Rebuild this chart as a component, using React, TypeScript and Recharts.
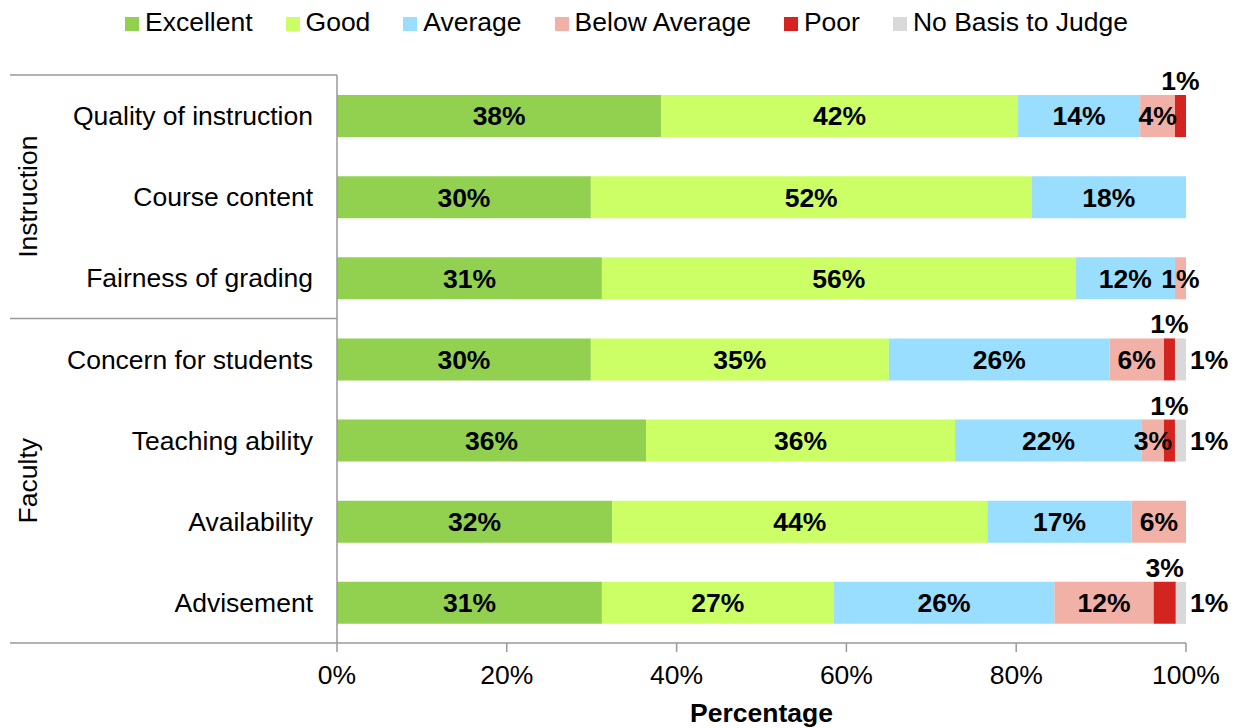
import React from 'react';
import { BarChart, Bar, XAxis, YAxis, LabelList, Label } from 'recharts';

const CATEGORIES = [
  'Quality of instruction',
  'Course content',
  'Fairness of grading',
  'Concern for students',
  'Teaching ability',
  'Availability',
  'Advisement',
];

const EXCELLENT = [38.2, 29.9, 31.2, 29.9, 36.4, 32.4, 31.2];
const GOOD = [42.0, 51.9, 55.8, 35.1, 36.4, 44.2, 27.3];
const AVERAGE = [14.4, 18.2, 11.7, 26.0, 22.0, 17.0, 26.0];
const BELOW_AVERAGE = [4.1, 0, 1.3, 6.4, 2.6, 6.4, 11.7];
const POOR = [1.3, 0, 0, 1.3, 1.3, 0, 2.6];
const NO_BASIS = [0, 0, 0, 1.3, 1.3, 0, 1.2];

const X_TICKS = [0, 20, 40, 60, 80, 100];

const GROUPS = [
  { name: 'Instruction', start: 0, end: 2 },
  { name: 'Faculty', start: 3, end: 6 },
];

const SERIES = [
  { key: 'excellent', name: 'Excellent', color: '#92D050', values: EXCELLENT, pos: 'center' },
  { key: 'good', name: 'Good', color: '#CCFF66', values: GOOD, pos: 'center' },
  { key: 'average', name: 'Average', color: '#99DDFF', values: AVERAGE, pos: 'center' },
  { key: 'below', name: 'Below Average', color: '#F2B1A7', values: BELOW_AVERAGE, pos: 'center' },
  { key: 'poor', name: 'Poor', color: '#D32420', values: POOR, pos: 'top' },
  { key: 'nobasis', name: 'No Basis to Judge', color: '#D9D9D9', values: NO_BASIS, pos: 'right' },
];

const data = CATEGORIES.map((category, i) => {
  const row: Record<string, string | number> = { category };
  SERIES.forEach(s => {
    row[s.key] = s.values[i];
  });
  return row;
});

// layout
const WIDTH = 1236;
const HEIGHT = 728;
const TOP = 75;
const X_AXIS_H = 85;
const Y_AXIS_W = 337;
const PLOT_H = HEIGHT - TOP - X_AXIS_H;
const FRAME_LEFT = 10;
const FONT = '"Liberation Sans", Arial, sans-serif';
const FONT_SIZE = 26.5;
const AXIS_COLOR = '#999999';

const pct = (v: any) => (Number(v) > 0 ? `${Math.round(Number(v))}%` : '');

const CategoryTick = (props: any) => {
  const { y, payload, index } = props;
  const step = PLOT_H / CATEGORIES.length;
  const parts: React.ReactNode[] = [];
  GROUPS.forEach(g => {
    if (index === g.start) {
      const ly = y - step / 2;
      parts.push(
        <line key="top" x1={FRAME_LEFT} x2={Y_AXIS_W} y1={ly} y2={ly} stroke={AXIS_COLOR} strokeWidth={1.5} />
      );
      const cy = y + ((g.end - g.start) * step) / 2;
      parts.push(
        <text
          key="grp"
          x={27}
          y={cy}
          dy="0.36em"
          textAnchor="middle"
          transform={`rotate(-90, 27, ${cy})`}
          fontFamily={FONT}
          fontSize={FONT_SIZE}
          fill="#000"
        >
          {g.name}
        </text>
      );
    }
  });
  if (index === CATEGORIES.length - 1) {
    const ly = y + step / 2;
    parts.push(
      <line key="bottom" x1={FRAME_LEFT} x2={Y_AXIS_W} y1={ly} y2={ly} stroke={AXIS_COLOR} strokeWidth={1.5} />
    );
  }
  return (
    <g>
      {parts}
      <text
        x={Y_AXIS_W - 24}
        y={y}
        dy="0.36em"
        textAnchor="end"
        fontFamily={FONT}
        fontSize={FONT_SIZE}
        fill="#000"
      >
        {payload.value}
      </text>
    </g>
  );
};

const ChartLegend = () => (
  <div
    style={{
      position: 'absolute',
      top: 7,
      left: 125,
      display: 'flex',
      fontFamily: FONT,
      fontSize: FONT_SIZE,
      lineHeight: '30px',
      color: '#000',
      whiteSpace: 'nowrap',
    }}
  >
    {SERIES.map((s, i) => (
      <span key={s.key} style={{ marginRight: i < SERIES.length - 1 ? 33 : 0 }}>
        <span
          style={{
            display: 'inline-block',
            width: 14,
            height: 14,
            background: s.color,
            marginRight: 6,
            verticalAlign: 'baseline',
          }}
        />
        {s.name}
      </span>
    ))}
  </div>
);

export default function App() {
  return (
    <div style={{ position: 'absolute', left: 0, top: 0, width: WIDTH, height: HEIGHT, background: '#fff' }}>
      <ChartLegend />
      <BarChart
        width={WIDTH}
        height={HEIGHT}
        data={data}
        layout="vertical"
        margin={{ top: TOP, right: 50, bottom: 0, left: 0 }}
        style={{ fontFamily: FONT }}
      >
        <XAxis
          type="number"
          domain={[0, 100]}
          ticks={X_TICKS}
          tickFormatter={v => `${v}%`}
          height={X_AXIS_H}
          stroke={AXIS_COLOR}
          axisLine={{ stroke: AXIS_COLOR, strokeWidth: 1.5 }}
          tickLine={{ stroke: AXIS_COLOR, strokeWidth: 1.5 }}
          tickSize={9}
          tickMargin={13}
          tick={{ fill: '#000', fontSize: FONT_SIZE, fontFamily: FONT }}
          interval={0}
          allowDataOverflow
        >
          <Label
            value="Percentage"
            position="insideBottom"
            offset={6}
            fill="#000"
            fontSize={FONT_SIZE}
            fontWeight="bold"
            fontFamily={FONT}
          />
        </XAxis>
        <YAxis
          type="category"
          dataKey="category"
          width={Y_AXIS_W}
          axisLine={{ stroke: AXIS_COLOR, strokeWidth: 1.5 }}
          tickLine={false}
          tickSize={0}
          tickMargin={24}
          tick={<CategoryTick />}
          interval={0}
        />
        {SERIES.map(s => (
          <Bar
            key={s.key}
            dataKey={s.key}
            name={s.name}
            stackId="a"
            fill={s.color}
            barSize={42}
            isAnimationActive={false}
          >
            <LabelList
              dataKey={s.key}
              position={s.pos as any}
              offset={s.pos === 'right' ? 4 : 5}
              formatter={pct}
              fill="#000"
              fontSize={FONT_SIZE}
              fontWeight="bold"
              fontFamily={FONT}
            />
          </Bar>
        ))}
      </BarChart>
    </div>
  );
}
